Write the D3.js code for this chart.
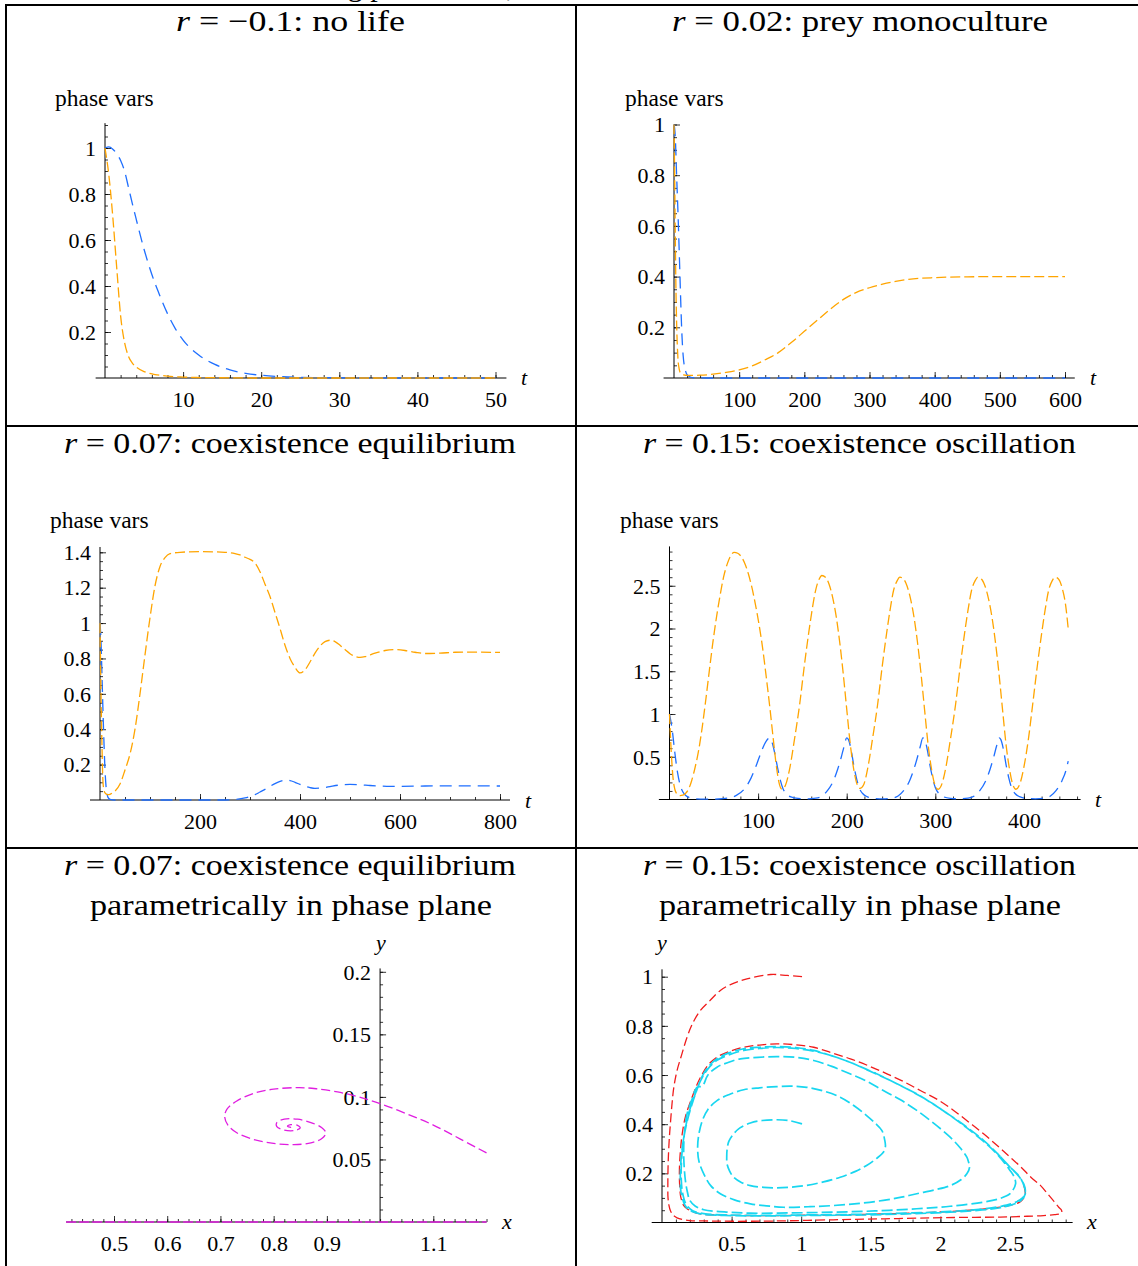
<!DOCTYPE html>
<html><head><meta charset="utf-8">
<script src="https://cdn.jsdelivr.net/npm/d3@7"></script>
<style>body{margin:0;background:#fff}svg{display:block}</style>
</head><body>
<svg id="chart" width="1138" height="1266"></svg>
<script>
// ---------------- DATA ----------------
const titles = [
  ["r", " = \u22120.1:  no life"],
  ["r", " = 0.02:  prey monoculture"],
  ["r", " = 0.07:  coexistence equilibrium"],
  ["r", " = 0.15:  coexistence oscillation"],
  ["r", " = 0.07:  coexistence equilibrium"],
  ["r", " = 0.15:  coexistence oscillation"]
];
const subtitle = "parametrically in phase plane";
const yLabelText = "phase vars";

// panel 1: r = -0.1 (t, value)
const p1Prey = [[0,1],[0.5,0.88],[1,0.7],[1.5,0.48],[2,0.27],[2.5,0.155],[3,0.095],[3.5,0.065],[4,0.048],[5,0.028],[6,0.018],[7,0.012],[8,0.008],[10,0.004],[12,0.002],[15,0.001],[20,0],[30,0],[40,0],[50,0]];
const p1Pred = [[0,1],[0.5,1.005],[1,0.995],[1.5,0.975],[2,0.946],[2.5,0.9],[3,0.83],[3.5,0.758],[4,0.69],[5,0.56],[6,0.45],[7,0.36],[8,0.28],[9,0.215],[10,0.165],[12,0.1],[14,0.06],[16,0.035],[18,0.02],[20,0.012],[22,0.007],[25,0.003],[30,0.001],[40,0],[50,0]];
const p1XTicks = [10,20,30,40,50], p1XLabels = ["10","20","30","40","50"];
const p1YTicks = [0.2,0.4,0.6,0.8,1], p1YLabels = ["0.2","0.4","0.6","0.8","1"];

// panel 2: r = 0.02
const p2Prey = [[0,1],[1,0.8],[2,0.55],[3,0.35],[4,0.22],[6,0.08],[8,0.035],[10,0.02],[15,0.012],[20,0.01],[40,0.011],[60,0.015],[80,0.022],[100,0.032],[120,0.048],[140,0.072],[160,0.1],[180,0.14],[200,0.184],[220,0.228],[240,0.272],[260,0.31],[280,0.338],[300,0.356],[320,0.37],[340,0.381],[360,0.389],[400,0.396],[450,0.399],[500,0.4],[600,0.4]];
const p2Pred = [[0,1],[2,0.95],[4,0.8],[6,0.66],[8,0.5],[10,0.33],[12,0.18],[14,0.09],[16,0.045],[18,0.025],[20,0.013],[25,0.004],[30,0.001],[50,0],[600,0]];
const p2XTicks = [100,200,300,400,500,600], p2XLabels = ["100","200","300","400","500","600"];
const p2YTicks = [0.2,0.4,0.6,0.8,1], p2YLabels = ["0.2","0.4","0.6","0.8","1"];

// panel 3: r = 0.07
const p3Prey = [[0,1],[2,0.6],[4,0.3],[6,0.1],[8,0.055],[10,0.04],[15,0.03],[20,0.032],[25,0.04],[30,0.05],[40,0.09],[50,0.17],[60,0.26],[70,0.4],[80,0.6],[90,0.82],[100,1.03],[110,1.21],[120,1.32],[130,1.37],[140,1.392],[160,1.4],[200,1.404],[250,1.4],[270,1.393],[280,1.385],[290,1.372],[300,1.36],[310,1.34],[320,1.29],[330,1.22],[340,1.15],[350,1.06],[360,0.97],[370,0.875],[380,0.8],[390,0.75],[400,0.718],[410,0.735],[420,0.78],[430,0.83],[440,0.87],[450,0.895],[460,0.903],[470,0.895],[480,0.875],[490,0.85],[500,0.827],[510,0.812],[520,0.806],[530,0.81],[550,0.83],[570,0.845],[590,0.85],[610,0.845],[630,0.835],[650,0.828],[680,0.83],[710,0.835],[740,0.836],[800,0.834]];
const p3Pred = [[0,1],[2,0.9],[4,0.7],[6,0.5],[8,0.32],[10,0.17],[12,0.08],[14,0.035],[16,0.015],[20,0.004],[30,0],[250,0],[270,0.003],[290,0.012],[300,0.02],[310,0.03],[320,0.045],[330,0.06],[340,0.077],[350,0.093],[360,0.105],[370,0.112],[380,0.11],[390,0.1],[400,0.088],[410,0.077],[420,0.07],[430,0.066],[440,0.067],[450,0.071],[460,0.076],[480,0.085],[500,0.088],[520,0.086],[540,0.082],[560,0.079],[580,0.077],[600,0.077],[650,0.079],[700,0.08],[800,0.079]];
const p3XTicks = [200,400,600,800], p3XLabels = ["200","400","600","800"];
const p3YTicks = [0.2,0.4,0.6,0.8,1,1.2,1.4], p3YLabels = ["0.2","0.4","0.6","0.8","1","1.2","1.4"];

// panel 4: r = 0.15
const p4Prey = [[0,1],[2,0.55],[4,0.25],[6,0.12],[8,0.07],[10,0.05],[12,0.045],[15,0.05],[18,0.07],[21,0.11],[25,0.22],[29,0.38],[33,0.58],[37,0.85],[41,1.17],[45,1.51],[49,1.84],[53,2.13],[57,2.38],[61,2.6],[65,2.75],[69,2.85],[73,2.89],[77,2.88],[81,2.84],[85,2.76],[89,2.64],[93,2.48],[97,2.28],[101,2.05],[105,1.78],[109,1.45],[113,1.1],[117,0.72],[121,0.36],[124,0.18],[127,0.12],
  [131,0.17],[136,0.38],[141,0.7],[147,1.12],[152,1.55],[157,1.94],[161,2.22],[165,2.45],[169,2.58],[172,2.62],[176,2.6],[180,2.52],[184,2.37],[188,2.15],[192,1.85],[196,1.48],[200,1.06],[204,0.65],[208,0.35],[211,0.2],[215,0.13],
  [219,0.17],[224,0.38],[229,0.7],[235,1.12],[240,1.55],[245,1.94],[249,2.22],[253,2.45],[257,2.56],[260,2.6],[264,2.58],[268,2.5],[272,2.35],[276,2.13],[280,1.83],[284,1.46],[288,1.04],[292,0.63],[296,0.34],[299,0.19],[303,0.12],
  [307,0.17],[312,0.38],[317,0.7],[323,1.12],[328,1.55],[333,1.94],[337,2.22],[341,2.45],[345,2.56],[348,2.6],[352,2.58],[356,2.5],[360,2.35],[364,2.13],[368,1.83],[372,1.46],[376,1.04],[380,0.63],[384,0.34],[387,0.19],[391,0.12],
  [395,0.17],[400,0.38],[405,0.7],[410,1.12],[415,1.55],[420,1.94],[424,2.22],[428,2.45],[432,2.56],[435,2.6],[439,2.58],[443,2.48],[447,2.28],[450,2.0]];
const p4Pred = [[0,1],[3,0.82],[6,0.55],[9,0.32],[12,0.17],[15,0.09],[18,0.05],[22,0.025],[30,0.008],[40,0.004],[55,0.006],[65,0.015],[75,0.045],[85,0.13],[92,0.25],[98,0.4],[104,0.57],[109,0.68],[113,0.72],[116,0.66],[119,0.53],[122,0.37],[125,0.23],[128,0.13],[132,0.065],[137,0.03],[145,0.012],[155,0.008],
  [165,0.015],[172,0.04],[178,0.1],[185,0.22],[190,0.36],[194,0.5],[197,0.62],[200,0.72],[202,0.7],[205,0.58],[208,0.4],[211,0.25],[214,0.14],[218,0.07],[223,0.033],[231,0.013],[241,0.008],
  [251,0.015],[258,0.04],[264,0.1],[271,0.22],[276,0.36],[280,0.5],[283,0.62],[286,0.72],[288,0.7],[291,0.58],[294,0.4],[297,0.25],[300,0.14],[304,0.07],[309,0.033],[317,0.013],[327,0.008],
  [337,0.015],[344,0.04],[350,0.1],[357,0.22],[362,0.36],[366,0.5],[369,0.62],[372,0.72],[374,0.7],[377,0.58],[380,0.4],[383,0.25],[386,0.14],[390,0.07],[395,0.033],[403,0.013],[413,0.008],
  [423,0.015],[430,0.04],[436,0.1],[443,0.22],[448,0.36],[450,0.45]];
const p4XTicks = [100,200,300,400], p4XLabels = ["100","200","300","400"];
const p4YTicks = [0.5,1,1.5,2,2.5], p4YLabels = ["0.5","1","1.5","2","2.5"];

// panel 5: phase plane r = 0.07 (x, y)
const p5Spiral = [[1.2,0.0552],[1.15,0.0665],[1.1,0.0775],[1.05,0.0865],[1.0,0.0946],[0.96,0.1],[0.92,0.104],[0.88,0.1065],[0.848,0.1074],[0.8,0.1062],[0.76,0.1025],[0.73,0.0965],[0.712,0.09],[0.708,0.084],[0.714,0.0775],[0.73,0.0715],[0.76,0.0663],[0.8,0.0628],[0.838,0.0618],[0.87,0.0633],[0.89,0.0665],[0.898,0.0712],[0.89,0.0755],[0.87,0.0795],[0.845,0.0822],[0.82,0.0822],[0.806,0.0795],[0.806,0.0762],[0.82,0.0735],[0.84,0.0732],[0.85,0.0752],[0.845,0.0772],[0.832,0.0778],[0.826,0.0765],[0.832,0.0757],[0.836,0.0763]];
const p5Axis = [[0.41,0],[1.2,0]];
const p5XTicks = [0.5,0.6,0.7,0.8,0.9,1.1], p5XLabels = ["0.5","0.6","0.7","0.8","0.9","1.1"];
const p5YTicks = [0.05,0.1,0.15,0.2], p5YLabels = ["0.05","0.1","0.15","0.2"];

// panel 6: phase plane r = 0.15 (x, y)
const p6Red = [[1.006,1.0],[0.9,1.005],[0.78,1.009],[0.61,0.991],[0.5,0.97],[0.419,0.944],[0.34,0.9],[0.275,0.862],[0.22,0.81],[0.18,0.754],[0.14,0.68],[0.108,0.618],[0.085,0.55],[0.072,0.483],[0.06,0.4],[0.053,0.347],[0.046,0.27],[0.043,0.212],[0.042,0.15],[0.043,0.103],[0.05,0.07],[0.06,0.049],[0.08,0.03],[0.108,0.019],[0.15,0.012],[0.2,0.008],[0.35,0.006],[0.515,0.005],[0.8,0.006],[1.23,0.011],[1.6,0.015],[1.95,0.019],[2.2,0.021],[2.43,0.022],[2.6,0.025],[2.74,0.028],[2.82,0.032],[2.87,0.038],[2.87,0.05],[2.85,0.062],[2.81,0.09],[2.77,0.117],[2.72,0.15],[2.65,0.184],[2.58,0.225],[2.5,0.266],[2.41,0.312],[2.31,0.361],[2.2,0.41],[2.095,0.456],[1.98,0.5],[1.856,0.537],[1.74,0.572],[1.616,0.605],[1.49,0.636],[1.353,0.666],[1.22,0.69],[1.09,0.713],[0.96,0.723],[0.826,0.727],[0.7,0.722],[0.587,0.713],[0.48,0.695],[0.395,0.673],[0.33,0.64],[0.285,0.6],[0.251,0.56],[0.21,0.5],[0.168,0.43],[0.145,0.36],[0.132,0.29],[0.125,0.212],[0.127,0.15],[0.135,0.103],[0.155,0.07],[0.18,0.056],[0.22,0.044],[0.275,0.035],[0.45,0.03],[0.754,0.028],[1.1,0.03],[1.47,0.033],[1.8,0.038],[2.07,0.045],[2.3,0.054],[2.43,0.062],[2.52,0.073],[2.57,0.083],[2.6,0.1],[2.61,0.117],[2.6,0.15]];
const p6Cyan = [[1.006,0.401],[0.92,0.414],[0.826,0.418],[0.72,0.415],[0.635,0.405],[0.56,0.385],[0.515,0.361],[0.48,0.33],[0.467,0.293],[0.465,0.265],[0.467,0.239],[0.485,0.21],[0.515,0.184],[0.57,0.163],[0.635,0.15],[0.73,0.143],[0.826,0.141],[0.93,0.144],[1.04,0.151],[1.16,0.165],[1.28,0.184],[1.39,0.208],[1.47,0.232],[1.54,0.26],[1.59,0.286],[1.605,0.31],[1.6,0.335],[1.58,0.374],[1.53,0.405],[1.47,0.435],[1.38,0.475],[1.28,0.51],[1.16,0.535],[1.04,0.55],[0.93,0.555],[0.826,0.553],[0.7,0.548],[0.587,0.54],[0.48,0.52],[0.395,0.496],[0.33,0.46],[0.29,0.415],[0.265,0.36],[0.256,0.306],[0.265,0.25],[0.3,0.198],[0.35,0.15],[0.419,0.117],[0.52,0.092],[0.635,0.076],[0.75,0.068],[0.874,0.062],[1.05,0.064],[1.23,0.069],[1.42,0.078],[1.59,0.09],[1.72,0.103],[1.83,0.117],[1.96,0.133],[2.07,0.15],[2.15,0.175],[2.19,0.198],[2.21,0.225],[2.2,0.25],[2.19,0.266],[2.14,0.305],[2.07,0.347],[1.96,0.4],[1.83,0.456],[1.71,0.5],[1.59,0.537],[1.47,0.575],[1.35,0.605],[1.22,0.635],[1.09,0.659],[0.96,0.672],[0.826,0.675],[0.69,0.672],[0.563,0.666],[0.47,0.65],[0.395,0.632],[0.33,0.6],[0.29,0.555],[0.251,0.55],[0.215,0.5],[0.18,0.442],[0.162,0.37],[0.156,0.306],[0.158,0.24],[0.168,0.171],[0.182,0.125],[0.2,0.09],[0.24,0.066],[0.3,0.052],[0.45,0.043],[0.635,0.038],[0.93,0.039],[1.23,0.042],[1.53,0.047],[1.83,0.056],[2.07,0.066],[2.31,0.083],[2.43,0.098],[2.5,0.117],[2.54,0.157],[2.53,0.185],[2.5,0.212],
  [2.42,0.27],[2.31,0.33],[2.19,0.385],[2.07,0.435],[1.95,0.482],[1.83,0.522],[1.71,0.558],[1.59,0.592],[1.47,0.623],[1.35,0.652],[1.22,0.678],[1.09,0.697],[0.96,0.708],[0.826,0.712],[0.7,0.708],[0.587,0.7],[0.48,0.682],[0.395,0.66],[0.33,0.625],[0.28,0.58],[0.24,0.525],[0.2,0.46],[0.17,0.39],[0.15,0.32],[0.14,0.25],[0.138,0.18],[0.148,0.12],[0.172,0.076],[0.22,0.048],[0.3,0.036],[0.45,0.031],[0.75,0.029],[1.1,0.031],[1.47,0.034],[1.8,0.039],[2.07,0.045],[2.3,0.055],[2.43,0.065],[2.53,0.08],[2.59,0.1],[2.61,0.125],[2.6,0.155],[2.56,0.19],[2.5,0.225],
  [2.41,0.28],[2.31,0.334],[2.19,0.388],[2.07,0.436],[1.95,0.481],[1.83,0.523],[1.71,0.558],[1.59,0.591],[1.47,0.622],[1.35,0.652],[1.22,0.678],[1.09,0.7],[0.96,0.712],[0.826,0.716],[0.7,0.713],[0.587,0.707],[0.48,0.69],[0.395,0.666],[0.33,0.632],[0.285,0.59],[0.251,0.54],[0.215,0.48],[0.18,0.41],[0.155,0.34],[0.139,0.27],[0.132,0.2],[0.133,0.14],[0.144,0.103],[0.165,0.07],[0.192,0.052],[0.24,0.04],[0.3,0.033],[0.5,0.028],[0.754,0.027],[1.1,0.029],[1.47,0.031],[1.8,0.036],[2.07,0.042],[2.3,0.051],[2.43,0.06],[2.53,0.075],[2.58,0.09],[2.61,0.117],[2.6,0.15],[2.57,0.185],[2.5,0.226],[2.41,0.281]];
const p6XTicks = [0.5,1,1.5,2,2.5], p6XLabels = ["0.5","1","1.5","2","2.5"];
const p6YTicks = [0.2,0.4,0.6,0.8,1], p6YLabels = ["0.2","0.4","0.6","0.8","1"];

// ---------------- STYLE ----------------
const SERIF = "'Liberation Serif','Times New Roman',serif";
const C_ORANGE = "#ffa500", C_BLUE = "#1f6fff", C_RED = "#f01c1c", C_CYAN = "#18d6f0", C_MAG = "#e01ee0";

const svg = d3.select("#chart");
svg.append("rect").attr("width", 1138).attr("height", 1266).attr("fill", "#fff");

// table frame
const frame = svg.append("g").attr("stroke", "#000").attr("stroke-width", 2);
frame.append("line").attr("x1", 5).attr("x2", 1138).attr("y1", 5).attr("y2", 5);
frame.append("line").attr("x1", 6).attr("x2", 6).attr("y1", 4).attr("y2", 1266);
frame.append("line").attr("x1", 576).attr("x2", 576).attr("y1", 4).attr("y2", 1266);
frame.append("line").attr("x1", 5).attr("x2", 1138).attr("y1", 426).attr("y2", 426);
frame.append("line").attr("x1", 5).attr("x2", 1138).attr("y1", 848).attr("y2", 848);

// caption above the table, cropped by the picture's top edge as in the reference
svg.append("text").attr("x", 197).attr("y", -4).attr("font-family", SERIF).attr("font-size", 30)
  .text("for increasing parameter r,");

function title(cx, by, parts, width) {
  const t = svg.append("text").attr("x", cx).attr("y", by).attr("text-anchor", "middle")
    .attr("font-family", SERIF).attr("font-size", 30)
    .attr("textLength", width).attr("lengthAdjust", "spacingAndGlyphs");
  if (Array.isArray(parts)) {
    t.append("tspan").attr("font-style", "italic").text(parts[0]);
    t.append("tspan").text(parts[1]);
  } else t.text(parts);
}
title(290.5, 31, titles[0], 229);
title(860, 31, titles[1], 376);
title(290, 453, titles[2], 452);
title(859.5, 453, titles[3], 433);
title(290, 875, titles[4], 452);
title(291, 915, subtitle, 402);
title(859.5, 875, titles[5], 433);
title(860, 915, subtitle, 402);

function panel(c) {
  const g = svg.append("g");
  const x = d3.scaleLinear().domain(c.xDom).range(c.xRange);
  const y = d3.scaleLinear().domain(c.yDom).range(c.yRange);
  const ax = x(c.yAxisAt || 0), ay = y(0);
  g.append("line").attr("x1", x(c.xExt[0])).attr("x2", x(c.xExt[1])).attr("y1", ay).attr("y2", ay)
    .attr("stroke", "#000").attr("stroke-width", 1);
  g.append("line").attr("x1", ax).attr("x2", ax).attr("y1", y(c.yExt[0])).attr("y2", y(c.yExt[1]))
    .attr("stroke", "#000").attr("stroke-width", 1);
  const fix = s => { s.select(".domain").remove(); s.selectAll(".tick line").attr("stroke-width", 0.8); };
  g.append("g").attr("transform", `translate(0,${ay})`)
    .call(d3.axisBottom(x).tickValues(c.xMinor).tickSizeInner(-3).tickSizeOuter(0).tickFormat("")).call(fix);
  g.append("g").attr("transform", `translate(${ax},0)`)
    .call(d3.axisLeft(y).tickValues(c.yMinor).tickSizeInner(-3).tickSizeOuter(0).tickFormat("")).call(fix);
  const gx = g.append("g").attr("transform", `translate(0,${ay})`)
    .call(d3.axisBottom(x).tickValues(c.xTicks).tickSizeInner(-6).tickSizeOuter(0).tickPadding(13)
      .tickFormat((d, i) => c.xLabels[i])).call(fix);
  gx.attr("font-family", SERIF).attr("font-size", 22);
  const gy = g.append("g").attr("transform", `translate(${ax},0)`)
    .call(d3.axisLeft(y).tickValues(c.yTicks).tickSizeInner(-6).tickSizeOuter(0).tickPadding(9)
      .tickFormat((d, i) => c.yLabels[i])).call(fix);
  gy.attr("font-family", SERIF).attr("font-size", 22);
  gy.selectAll("text").attr("dy", "0.33em");
  return { g, x, y };
}
function minors(a, b, step) {
  return d3.range(Math.ceil(a / step), Math.floor(b / step) + 1).map(k => +(k * step).toFixed(6)).filter(v => v !== 0);
}
function series(p, data, color, dash, curve, w) {
  p.g.append("path").datum(data).attr("fill", "none").attr("stroke", color)
    .attr("stroke-width", w || 1.3).attr("stroke-dasharray", dash)
    .attr("d", d3.line().x(d => p.x(d[0])).y(d => p.y(d[1])).curve(curve));
}
function label(x, y, txt, italic, size) {
  svg.append("text").attr("x", x).attr("y", y).attr("font-family", SERIF).attr("font-size", size || 22)
    .attr("font-style", italic ? "italic" : "normal").text(txt);
}

// panel 1
const P1 = panel({ xDom: [0, 50], xRange: [105, 495.5], yDom: [0, 1], yRange: [378, 148],
  xExt: [-1.2, 51.4], yExt: [0, 1.108], xTicks: p1XTicks, xLabels: p1XLabels, yTicks: p1YTicks, yLabels: p1YLabels,
  xMinor: minors(0, 51.4, 2), yMinor: minors(0, 1.108, 0.05) });
series(P1, p1Pred, C_BLUE, "12,7", d3.curveMonotoneX);
series(P1, p1Prey, C_ORANGE, "10,4", d3.curveMonotoneX);
label(55, 106, yLabelText, false, 23.5); label(521, 385, "t", true);

// panel 2
const P2 = panel({ xDom: [0, 600], xRange: [674, 1065], yDom: [0, 1], yRange: [378, 124.5],
  xExt: [-16, 615], yExt: [0, 1.0], xTicks: p2XTicks, xLabels: p2XLabels, yTicks: p2YTicks, yLabels: p2YLabels,
  xMinor: minors(0, 615, 20), yMinor: minors(0, 1, 0.05) });
series(P2, p2Pred, C_BLUE, "12,7", d3.curveMonotoneX);
series(P2, p2Prey, C_ORANGE, "10,4", d3.curveMonotoneX);
label(625, 106, yLabelText, false, 23.5); label(1090, 385, "t", true);

// panel 3
const P3 = panel({ xDom: [0, 800], xRange: [100, 500], yDom: [0, 1.4], yRange: [800, 552.3],
  xExt: [-20, 820], yExt: [0, 1.43], xTicks: p3XTicks, xLabels: p3XLabels, yTicks: p3YTicks, yLabels: p3YLabels,
  xMinor: minors(0, 820, 50), yMinor: minors(0, 1.43, 0.05) });
series(P3, p3Pred, C_BLUE, "12,7", d3.curveMonotoneX);
series(P3, p3Prey, C_ORANGE, "10,4", d3.curveMonotoneX);
label(50, 528, yLabelText, false, 23.5); label(525, 808, "t", true);

// panel 4
const P4 = panel({ xDom: [0, 400], xRange: [669.5, 1023.9], yDom: [0, 2.5], yRange: [799.5, 585.75],
  xExt: [-12, 464], yExt: [0, 2.96], xTicks: p4XTicks, xLabels: p4XLabels, yTicks: p4YTicks, yLabels: p4YLabels,
  xMinor: minors(0, 464, 20), yMinor: minors(0, 2.96, 0.1) });
series(P4, p4Pred, C_BLUE, "12,7", d3.curveMonotoneX);
series(P4, p4Prey, C_ORANGE, "10,4", d3.curveMonotoneX);
label(620, 528, yLabelText, false, 23.5); label(1095, 807, "t", true);

// panel 5
const P5 = panel({ xDom: [0.5, 1.1], xRange: [114, 433.3], yDom: [0, 0.2], yRange: [1222, 971.8], yAxisAt: 1.0,
  xExt: [0.41, 1.2], yExt: [0, 0.2027], xTicks: p5XTicks, xLabels: p5XLabels, yTicks: p5YTicks, yLabels: p5YLabels,
  xMinor: minors(0.41, 1.2, 0.02), yMinor: minors(0, 0.2027, 0.01) });
series(P5, p5Axis, C_MAG, "10,3", d3.curveLinear, 1.6);
series(P5, p5Spiral, C_MAG, "9,4", d3.curveCatmullRom.alpha(0.5));
label(502, 1229, "x", true); label(376, 950, "y", true);

// panel 6
const P6 = panel({ xDom: [0, 2.5], xRange: [662, 1010], yDom: [0, 1], yRange: [1222.5, 976.7],
  xExt: [-0.074, 2.95], yExt: [0, 1.03], xTicks: p6XTicks, xLabels: p6XLabels, yTicks: p6YTicks, yLabels: p6YLabels,
  xMinor: minors(0, 2.95, 0.1), yMinor: minors(0, 1.03, 0.05) });
series(P6, p6Red, C_RED, "9,4", d3.curveCatmullRom.alpha(0.5));
series(P6, p6Cyan, C_CYAN, "11,4", d3.curveCatmullRom.alpha(0.5), 1.7);
label(1087, 1229, "x", true); label(657, 950, "y", true);
</script>
</body></html>
